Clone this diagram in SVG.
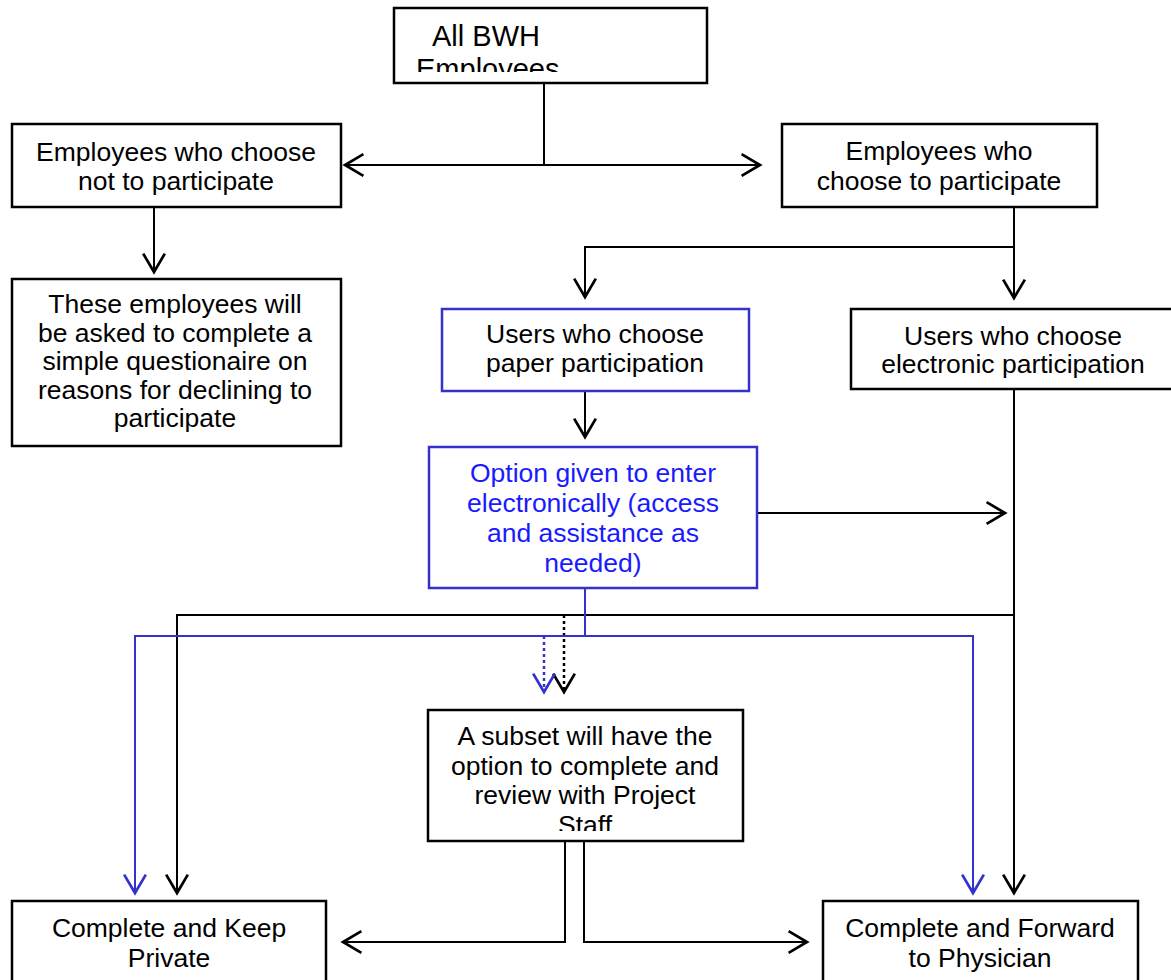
<svg xmlns="http://www.w3.org/2000/svg" width="1171" height="980" viewBox="0 0 1171 980">
<style>
.box{fill:#fff;stroke:#000;stroke-width:2.5}
.bbox{fill:#fff;stroke:#3333cc;stroke-width:2.5}
.t{font-family:"Liberation Sans",Arial,sans-serif;font-size:26.5px;fill:#000;text-anchor:middle}
.tb{fill:#1a1aff}
.c{fill:none;stroke:#000;stroke-width:2}
.cb{fill:none;stroke:#3333cc;stroke-width:2}
.dot{stroke-dasharray:3 3;stroke-width:2.5}
</style>
<defs>
<marker id="ah" markerUnits="userSpaceOnUse" markerWidth="24" markerHeight="26" viewBox="-19 -12 22 24" refX="0" refY="0" orient="auto-start-reverse">
<path d="M-17,-10 L0,0 L-17,10" fill="none" stroke="#000" stroke-width="2.5"/>
</marker>
<marker id="ahb" markerUnits="userSpaceOnUse" markerWidth="24" markerHeight="26" viewBox="-19 -12 22 24" refX="0" refY="0" orient="auto">
<path d="M-17,-10 L0,0 L-17,10" fill="none" stroke="#3333cc" stroke-width="2.5"/>
</marker>
<clipPath id="clipTop"><rect x="395" y="9" width="311" height="63"/></clipPath>
<clipPath id="clipSub"><rect x="429" y="711" width="313" height="120"/></clipPath>
</defs>

<g id="connectors">
<path class="c" d="M544,83 V165"/>
<path class="c" d="M345,165 H760" marker-start="url(#ah)" marker-end="url(#ah)"/>
<path class="c" d="M154,207 V272" marker-end="url(#ah)"/>
<path class="c" d="M1014,207 V298" marker-end="url(#ah)"/>
<path class="c" d="M1014,247 H585 V297" marker-end="url(#ah)"/>
<path class="c" d="M585,391 V437" marker-end="url(#ah)"/>
<path class="c" d="M757,513 H1005" marker-end="url(#ah)"/>
<path class="c" d="M1014,389 V893" marker-end="url(#ah)"/>
<path class="c" d="M1014,615 H177 V893" marker-end="url(#ah)"/>
<path class="c dot" d="M564,615 V692" marker-end="url(#ah)"/>
<path class="cb" d="M585,588 V636"/>
<path class="cb" d="M585,636 H135 V893" marker-end="url(#ahb)"/>
<path class="cb" d="M585,636 H973 V893" marker-end="url(#ahb)"/>
<path class="cb dot" d="M544,636 V692" marker-end="url(#ahb)"/>
<path class="c" d="M565,841 V942 H343" marker-end="url(#ah)"/>
<path class="c" d="M584,841 V942 H807" marker-end="url(#ah)"/>
</g>

<g id="all-bwh">
<rect class="box" x="394" y="8" width="313" height="75"/>
<g clip-path="url(#clipTop)">
<text class="t" style="font-size:29px;text-anchor:start" x="432" y="46">All BWH</text>
<text class="t" style="font-size:29px;text-anchor:start" x="416" y="79">Employees</text>
</g>
</g>

<g id="not-participate">
<rect class="box" x="12" y="124" width="329" height="83"/>
<text class="t" x="176" y="161">Employees who choose</text>
<text class="t" x="176" y="190">not to participate</text>
</g>

<g id="questionnaire">
<rect class="box" x="12" y="279" width="329" height="167"/>
<text class="t" x="175" y="313">These employees will</text>
<text class="t" x="175" y="341.5">be asked to complete a</text>
<text class="t" x="175" y="370">simple questionaire on</text>
<text class="t" x="175" y="398.5">reasons for declining to</text>
<text class="t" x="175" y="427">participate</text>
</g>

<g id="participate">
<rect class="box" x="782" y="124" width="315" height="83"/>
<text class="t" x="939" y="160">Employees who</text>
<text class="t" x="939" y="190">choose to participate</text>
</g>

<g id="paper">
<rect class="bbox" x="442" y="309" width="307" height="82"/>
<text class="t" x="595" y="343">Users who choose</text>
<text class="t" x="595" y="372">paper participation</text>
</g>

<g id="electronic">
<rect class="box" x="851" y="309" width="326" height="80"/>
<text class="t" x="1013" y="345">Users who choose</text>
<text class="t" x="1013" y="373">electronic participation</text>
</g>

<g id="option">
<rect class="bbox" x="429" y="447" width="328" height="141"/>
<text class="t tb" x="593" y="482">Option given to enter</text>
<text class="t tb" x="593" y="512">electronically (access</text>
<text class="t tb" x="593" y="542">and assistance as</text>
<text class="t tb" x="593" y="572">needed)</text>
</g>

<g id="subset">
<rect class="box" x="428" y="710" width="315" height="131"/>
<g clip-path="url(#clipSub)">
<text class="t" x="585" y="745">A subset will have the</text>
<text class="t" x="585" y="775">option to complete and</text>
<text class="t" x="585" y="804">review with Project</text>
<text class="t" x="585" y="834">Staff</text>
</g>
</g>

<g id="keep-private">
<rect class="box" x="12" y="901" width="314" height="100"/>
<text class="t" x="169" y="937">Complete and Keep</text>
<text class="t" x="169" y="967">Private</text>
</g>

<g id="forward">
<rect class="box" x="823" y="901" width="315" height="100"/>
<text class="t" x="980" y="937">Complete and Forward</text>
<text class="t" x="980" y="967">to Physician</text>
</g>
</svg>
